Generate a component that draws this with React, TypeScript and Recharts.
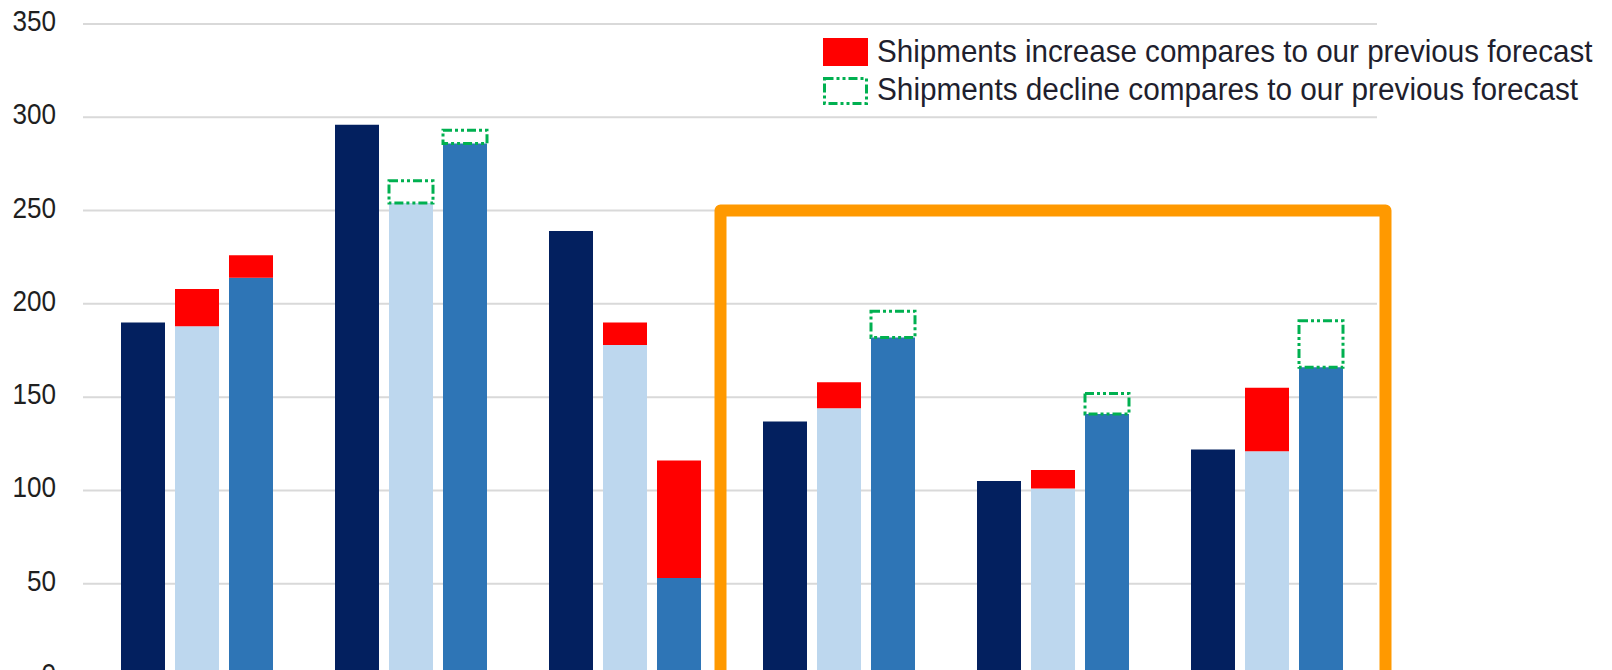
import { BarChart, Bar, XAxis, YAxis, CartesianGrid, Legend, ReferenceArea } from 'recharts';

// categories are cut off in the source picture, so their labels stay hidden
const categories = ['A', 'B', 'C', 'D', 'E', 'F', 'G'];
const actual = [190, 296, 239, 137, 105, 122, null];
const lightPrev = [188, 266, 178, 144, 101, 121, null];
const lightCurr = [208, 254, 190, 158, 111, 155, null];
const midPrev = [214, 293, 53, 196, 152, 191, null];
const midCurr = [226, 286, 116, 182, 141, 166, null];
const yTicks = [0, 50, 100, 150, 200, 250, 300, 350];
const edgeTicks = [0, 1, 2, 3, 4, 5, 6, 7];
const legendLabels = [
  'Shipments increase compares to our previous forecast',
  'Shipments decline compares to our previous forecast',
];
const highlightFrom = 'D';
const highlightTo = 'F';
const highlightTop = 250;

const FONT = '"Liberation Sans", Arial, sans-serif';
const DASH = '9 3 3 3 3 3';
const NAVY = '#03205f';
const LIGHT = '#bdd7ee';
const MID = '#2e75b6';
const RED = '#ff0000';
const GREEN = '#00b050';

const split = (prev: number | null, curr: number | null) => {
  if (prev == null || curr == null) return { base: null, inc: null, dec: null };
  return { base: Math.min(prev, curr), inc: Math.max(curr - prev, 0), dec: Math.max(prev - curr, 0) };
};

const data = categories.map((cat, i) => {
  const l = split(lightPrev[i], lightCurr[i]);
  const m = split(midPrev[i], midCurr[i]);
  return {
    cat,
    actual: actual[i],
    lightBase: l.base,
    lightInc: l.inc,
    lightDec: l.dec,
    midBase: m.base,
    midInc: m.inc,
    midDec: m.dec,
  };
});

const filled = actual.filter((v) => v != null).length;

// gridlines only run across the categories that hold bars
const gridLine = (p: any) => {
  const x2 = p.x1 + ((p.x2 - p.x1) * filled) / categories.length + 3;
  return <line key={p.key} x1={p.x1 - 7} y1={p.y1} x2={x2} y2={p.y2} stroke="#d9d9d9" strokeWidth={2} />;
};

// the source uses a narrow face, so squeeze the regular one sideways
const YTick = ({ x, y, payload }: any) => (
  <text transform={`translate(${x + 2} ${y + 7}) scale(0.87 1)`} textAnchor="end" fontSize={30} fontFamily={FONT} fill="#1f1f1f">
    {payload.value}
  </text>
);

// orange frame round the last three groups
const HighlightBox = (p: any) => {
  const left = p.x - 11.5;
  const right = p.x + p.width + 11.5;
  return (
    <rect
      x={left}
      y={p.y}
      width={right - left}
      height={p.height}
      fill="none"
      stroke="#ff9900"
      strokeWidth={12}
      strokeLinejoin="round"
    />
  );
};

const LegendBox = () => (
  <svg width={790} height={84}>
    <rect x={8} y={10} width={45} height={28} fill={RED} />
    <rect x={9.5} y={50.5} width={42} height={25} fill="none" stroke={GREEN} strokeWidth={3} strokeDasharray={DASH} />
    <text transform="translate(62 34) scale(0.955 1)" fontSize={31} fontFamily={FONT} fill="#1f1f2e">
      {legendLabels[0]}
    </text>
    <text transform="translate(62 72) scale(0.96 1)" fontSize={31} fontFamily={FONT} fill="#1f1f2e">
      {legendLabels[1]}
    </text>
  </svg>
);

export default function App() {
  return (
    <div style={{ position: 'absolute', left: 0, top: 0, width: 1612, height: 670, overflow: 'hidden', background: '#fff' }}>
      <BarChart width={1612} height={720} data={data} margin={{ top: 24, right: 24, bottom: 43, left: 0 }} barSize={44} barGap={10}>
        <CartesianGrid vertical={false} horizontal={gridLine} />
        <XAxis dataKey="cat" hide />
        <XAxis
          xAxisId="edge"
          type="number"
          domain={[0, categories.length]}
          ticks={edgeTicks}
          allowDataOverflow
          tick={false}
          tickLine={{ stroke: '#595959', strokeWidth: 2 }}
          axisLine={{ stroke: '#bfbfbf' }}
          tickSize={9}
          mirror
          height={0}
        />
        <YAxis
          domain={[0, 350]}
          ticks={yTicks}
          width={90}
          axisLine={false}
          tickLine={false}
          tickSize={0}
          tickMargin={36}
          tick={<YTick />}
        />
        <Legend
          layout="horizontal"
          verticalAlign="middle"
          align="center"
          content={<LegendBox />}
          wrapperStyle={{ left: 815, top: 28, width: 790, height: 84 }}
        />

        <Bar dataKey="actual" stackId="actual" fill={NAVY} isAnimationActive={false} />

        <Bar dataKey="lightBase" stackId="light" fill={LIGHT} isAnimationActive={false} />
        <Bar dataKey="lightInc" stackId="light" fill={RED} isAnimationActive={false} />
        <Bar dataKey="lightDec" stackId="light" fill="none" stroke={GREEN} strokeWidth={3} strokeDasharray={DASH} isAnimationActive={false} />

        <Bar dataKey="midBase" stackId="mid" fill={MID} isAnimationActive={false} />
        <Bar dataKey="midInc" stackId="mid" fill={RED} isAnimationActive={false} />
        <Bar dataKey="midDec" stackId="mid" fill="none" stroke={GREEN} strokeWidth={3} strokeDasharray={DASH} isAnimationActive={false} />

        <ReferenceArea x1={highlightFrom} x2={highlightTo} y1={0} y2={highlightTop} shape={<HighlightBox />} fillOpacity={1} />
      </BarChart>
    </div>
  );
}
